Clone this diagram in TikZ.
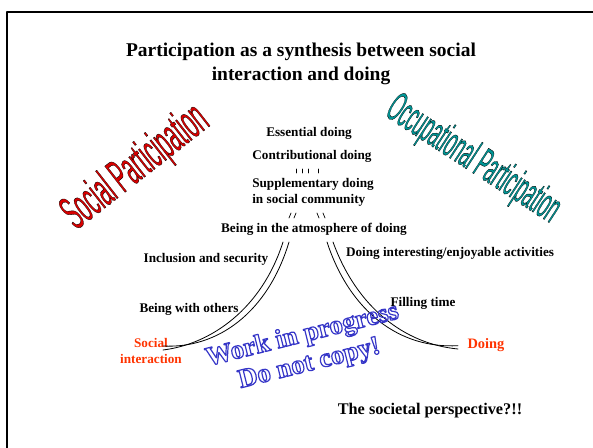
\documentclass[tikz,border=0pt]{standalone}
\usepackage{fontspec}
\setmainfont{Liberation Serif}
\newfontfamily\wordart{Liberation Sans}
\definecolor{socred}{RGB}{215,0,0}
\definecolor{occteal}{RGB}{0,150,150}
\definecolor{dored}{RGB}{255,51,0}
\definecolor{wmblue}{RGB}{55,55,200}
\newcommand\outlined[1]{\special{pdf:literal direct 1 Tr 0.9 w}#1\special{pdf:literal direct 0 Tr}}
\newcommand\edged[1]{\special{pdf:literal direct 2 Tr 0 0 0 RG 0.3 w}#1\special{pdf:literal direct 0 Tr}}
\begin{document}
\begin{tikzpicture}[x=0.75pt,y=-0.75pt, line join=round, line cap=round]
	\tikzset{lbl/.style={font=\bfseries\fontsize{9.9}{12}\selectfont, inner sep=0pt},
		redlbl/.style={lbl, text=dored, align=center},
		arc/.style={line width=0.6pt},
		tick/.style={line width=0.5pt}}
	\useasboundingbox (0,0) rectangle (593,448);
	\draw[line width=1.6pt] (7,448) -- (7,12) -- (593,12);
	% title
	\node[align=center, inner sep=0pt, font=\bfseries\fontsize{14.6}{18}\selectfont] (title) at (301,64)
		{Participation as a synthesis between social\\interaction and doing};
	% word art
	\node[rotate=38, inner sep=0pt, text=socred] (socpart) at (136,168)
		{\scalebox{0.42}[1]{\wordart\fontsize{36}{36}\selectfont\edged{Social Participation}}};
	\node[rotate=-33, inner sep=0pt, text=occteal] (occpart) at (473,160)
		{\scalebox{0.4}[1]{\wordart\fontsize{32}{32}\selectfont\edged{Occupational Participation}}};
	% levels
	\node[lbl] (essential) at (309,133) {Essential doing};
	\node[lbl] (contrib) at (312,156) {Contributional doing};
	\node[lbl, align=left] (suppl) at (313,192) {Supplementary doing\\in social community};
	\node[lbl] (atmos) at (314,229) {Being in the atmosphere of doing};
	\node[lbl] (inclusion) at (206,259) {Inclusion and security};
	\node[lbl] (withothers) at (189,309) {Being with others};
	\node[lbl] (interesting) at (450,253) {Doing interesting/enjoyable activities};
	\node[lbl] (filling) at (423,303) {Filling time};
	\node[redlbl] (socint) at (151,351) {Social\\interaction};
	\node[redlbl, font=\bfseries\fontsize{10.8}{12}\selectfont] (doing) at (486,345) {Doing};
	\node[lbl, font=\bfseries\fontsize{12.2}{14}\selectfont] (societal) at (430,411) {The societal perspective?!!};
	% curves
	\coordinate (la) at (289,242);
	\coordinate (lb) at (283,242);
	\coordinate (lend) at (163,348);
	\coordinate (ra) at (327,242);
	\coordinate (rb) at (333,242);
	\coordinate (rend) at (458,347);
	\draw[arc] (la) .. controls (268,312) and (218,349) .. ([yshift=1.5]lend);
	\draw[arc] (lb) .. controls (262,308) and (212,344) .. ([yshift=-1.5]lend);
	\draw[arc] (ra) .. controls (350,312) and (400,349) .. ([yshift=1]rend);
	\draw[arc] (rb) .. controls (357,308) and (405,344) .. ([yshift=-1.5]rend);
	% ticks
	\foreach \tx in {296,302,308,318}
		\draw[tick] (\tx,169) -- (\tx,173);
	\draw[tick] (291,213) -- (289,218) (296,213) -- (294,218)
		(317,213) -- (319,218) (323,213) -- (325,218);
	% watermark
	\node[rotate=14, align=center, inner sep=0pt, text=wmblue, font=\bfseries\fontsize{20}{22}\selectfont] (wip) at (306,350)
		{\outlined{Work in progress}\\\outlined{Do not copy!}};
\end{tikzpicture}
\end{document}
